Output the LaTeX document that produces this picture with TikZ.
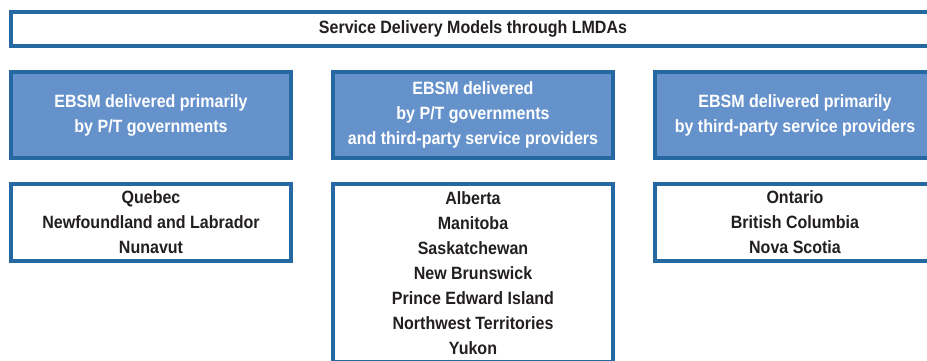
\documentclass[tikz,border=0pt]{standalone}
\usepackage{fontspec}
\setmainfont{Liberation Sans}[FakeStretch=0.9]
\usetikzlibrary{positioning}
\definecolor{lmdaline}{RGB}{38,104,161}
\definecolor{lmdafill}{RGB}{102,146,204}
\definecolor{lmdatext}{RGB}{35,31,32}

\begin{document}
\begin{tikzpicture}[
    x=1pt, y=-1pt,
    every node/.style={font=\bfseries\fontsize{17.8}{25}\selectfont,
                       align=center, outer sep=0pt, inner sep=2pt},
    header/.style={rectangle, draw=lmdaline, line width=3.8pt, fill=white,
                   text=lmdatext, minimum width=924pt, minimum height=34pt},
    model/.style={rectangle, draw=lmdaline, line width=3.8pt, fill=lmdafill,
                  text=white, minimum width=280pt, minimum height=86pt},
    region/.style={rectangle, draw=lmdaline, line width=3.8pt, fill=white,
                   text=lmdatext, minimum width=280pt, minimum height=77pt},
]

% page frame
\useasboundingbox (0,0) rectangle (927,360);
\clip (0,0) rectangle (927,360);

% the three delivery models
\node[model] (mixed) at (473,115) {EBSM delivered\\by P/T governments\\and third-party service providers};
\node[model, left=42pt of mixed]  (ptgov) {EBSM delivered primarily\\by P/T governments};
\node[model, right=42pt of mixed] (thirdparty) {EBSM delivered primarily\\by third-party service providers};

% heading
\node[header, above=26pt of mixed] (title) {Service Delivery Models through LMDAs};

% provinces and territories under each model
\node[region, below=26pt of ptgov] (ptgovlist)
    {Quebec\\Newfoundland and Labrador\\Nunavut};
\node[region, below=26pt of mixed, minimum height=178pt] (mixedlist)
    {Alberta\\Manitoba\\Saskatchewan\\New Brunswick\\Prince Edward Island\\Northwest Territories\\Yukon};
\node[region, below=26pt of thirdparty] (thirdpartylist)
    {Ontario\\British Columbia\\Nova Scotia};

\end{tikzpicture}
\end{document}
